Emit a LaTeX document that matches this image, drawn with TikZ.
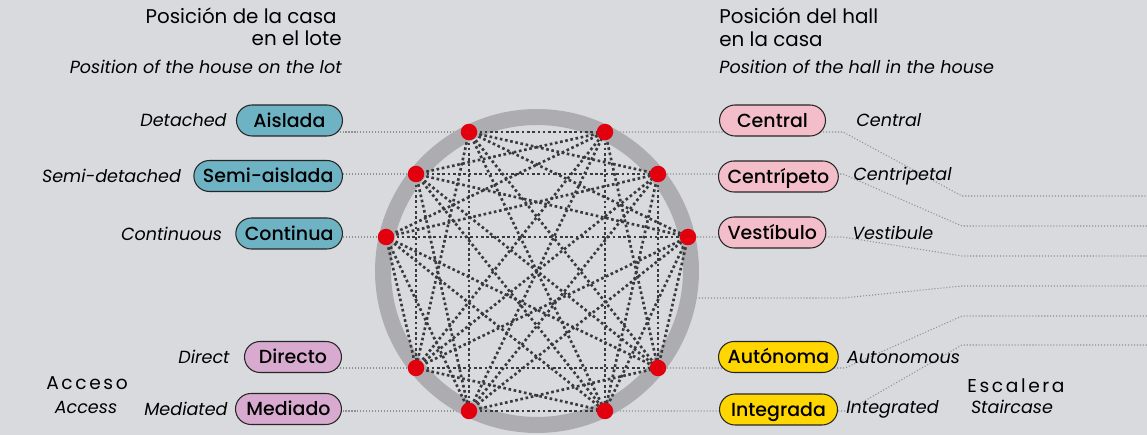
\documentclass[tikz,border=0pt]{standalone}
\usepackage{fontspec}
\setmainfont{Poppins}
\IfFontExistsTF{Poppins Medium}{\newfontfamily\pillfont{Poppins Medium}}{\newfontfamily\pillfont{Poppins}[FakeBold=0.4]}
\newfontfamily\spacedfont{Poppins}[LetterSpace=14]
\usetikzlibrary{positioning,backgrounds}
\definecolor{bggray}{HTML}{D9DADE}
\definecolor{ringgray}{HTML}{ADACB1}
\definecolor{dotred}{HTML}{E2000F}
\definecolor{edgegray}{HTML}{3A3A3B}
\definecolor{linegray}{HTML}{909094}
\definecolor{lotblue}{HTML}{6DB3C4}
\definecolor{accmauve}{HTML}{D8AACF}
\definecolor{hallpink}{HTML}{F3BECA}
\definecolor{stairyellow}{HTML}{FFD600}

\tikzset{
  pill/.style={draw=black!85, line width=0.6pt, rounded corners=0.31cm,
    minimum height=0.62cm, minimum width=2.12cm, inner xsep=0.18cm, inner ysep=0pt,
    font=\pillfont\fontsize{10.8}{13}\selectfont, text height=7.8pt, text depth=0.2pt},
  en/.style={font=\itshape\fontsize{10}{12}\selectfont, inner sep=0pt},
  title/.style={font=\fontsize{11.3}{13}\selectfont, inner sep=0pt},
  subtitle/.style={font=\itshape\fontsize{10}{12}\selectfont, inner sep=0pt},
  reddot/.style={circle, fill=dotred, inner sep=0pt, minimum size=0.33cm},
  link/.style={edgegray, line width=1.5pt, dash pattern=on 1.5pt off 1.5pt},
  thinline/.style={linegray, line width=0.6pt, dash pattern=on 0.6pt off 1.1pt}
}

\begin{document}
\begin{tikzpicture}[x=0.02cm, y=-0.02cm]
\useasboundingbox (0,0) rectangle (1147,435);

% titles
\node[title, anchor=base east] at (337,24) {Posición de la casa};
\node[title, anchor=base east] at (342,46) {en el lote};
\node[subtitle, anchor=base east] at (342,74) {Position of the house on the lot};
\node[title, anchor=base west] at (719,24) {Posición del hall};
\node[title, anchor=base west] at (719,46.5) {en la casa};
\node[subtitle, anchor=base west] at (719,74) {Position of the hall in the house};
\node[inner sep=0pt, anchor=base, font=\spacedfont\fontsize{10.6}{12}\selectfont] at (87,390) {Acceso};
\node[subtitle, anchor=base] at (86,414) {Access};
\node[inner sep=0pt, anchor=base, font=\spacedfont\fontsize{10.6}{12}\selectfont] at (1016,392.5) {Escalera};
\node[subtitle, anchor=base] at (1012,414) {Staircase};

% pills
\node[pill, fill=lotblue, anchor=east] (aislada) at (343,120.5) {Aislada};
\node[pill, fill=lotblue, anchor=east] (semi) at (343,176) {Semi-aislada};
\node[pill, fill=lotblue, anchor=east] (continua) at (343,233.5) {Continua};
\node[pill, fill=accmauve, anchor=east, minimum width=1.94cm] (directo) at (342,357) {Directo};
\node[pill, fill=accmauve, anchor=east] (mediado) at (342,409) {Mediado};
\node[pill, fill=hallpink, anchor=west] (central) at (719,120.5) {Central};
\node[pill, fill=hallpink, anchor=west] (centripeto) at (718,176.5) {Centrípeto};
\node[pill, fill=hallpink, anchor=west] (vestibulo) at (718,232.5) {Vestíbulo};
\node[pill, fill=stairyellow, anchor=west, minimum width=2.38cm] (autonoma) at (718,357) {Autónoma};
\node[pill, fill=stairyellow, anchor=west, minimum width=2.36cm] (integrada) at (719,409.5) {Integrada};

% english labels
\node[en, left=0.18cm of aislada] {Detached};
\node[en, left=0.24cm of semi] {Semi-detached};
\node[en, left=0.26cm of continua] {Continuous};
\node[en, left=0.28cm of directo] {Direct};
\node[en, left=0.14cm of mediado] {Mediated};
\node[en, anchor=west] at (856,120.5) {Central};
\node[en, anchor=west] at (853,176.5) {Centripetal};
\node[en, anchor=west] at (852,232.5) {Vestibule};
\node[en, right=0.16cm of autonoma] {Autonomous};
\node[en, right=0.16cm of integrada] {Integrated};

% points on the ring
\coordinate (lotA) at (469,132);
\coordinate (lotS) at (416,174);
\coordinate (lotC) at (386,237);
\coordinate (accD) at (416,368);
\coordinate (accM) at (469,411);
\coordinate (hallC) at (605,132);
\coordinate (hallP) at (658,174);
\coordinate (hallV) at (688,237);
\coordinate (stA) at (658,368);
\coordinate (stI) at (605,411);
\coordinate (ringE) at (690,298);
\foreach \n/\y in {1/196,2/226,3/256,4/286,5/316,6/345}
  \coordinate (out\n) at (1147,\y);

\begin{scope}[on background layer]
\fill[bggray] (0,0) rectangle (1147,435);
% leaders
\foreach \d/\p in {lotA/aislada,lotS/semi,lotC/continua,accD/directo,accM/mediado}
  \draw[thinline] (\d) -- (\d -| \p.center);
\draw[thinline] (hallC) -- (hallC -| 843,0) -- (962,196) -- (out1);
\draw[thinline] (hallP) -- (hallP -| 843,0) -- (962,226) -- (out2);
\draw[thinline] (hallV) -- (hallV -| 843,0) -- (962,256) -- (out3);
\draw[thinline] (ringE) -- (ringE -| 843,0) -- (962,286) -- (out4);
\draw[thinline] (stA) -- (stA -| 845,0) -- (962,316) -- (out5);
\draw[thinline] (stI) -- (stI -| 847,0) -- (962,345) -- (out6);
\end{scope}

% ring
\draw[ringgray, line width=0.32cm] (537,271) circle[radius=3.08cm];

% links between groups
\foreach \a in {lotA,lotS,lotC}
  \foreach \b in {accD,accM,hallC,hallP,hallV,stA,stI}
    \draw[link] (\a) -- (\b);
\foreach \a in {accD,accM}
  \foreach \b in {hallC,hallP,hallV,stA,stI}
    \draw[link] (\a) -- (\b);
\foreach \a in {hallC,hallP,hallV}
  \foreach \b in {stA,stI}
    \draw[link] (\a) -- (\b);

\foreach \d in {lotA,lotS,lotC,accD,accM,hallC,hallP,hallV,stA,stI}
  \node[reddot] at (\d) {};
\end{tikzpicture}
\end{document}
